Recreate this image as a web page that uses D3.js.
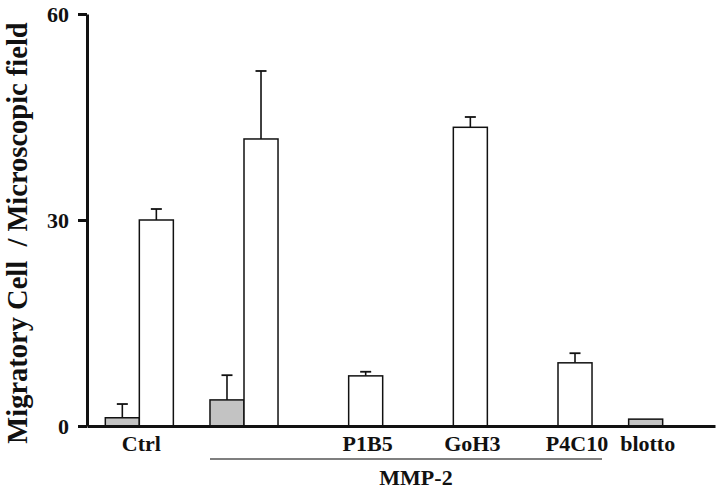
<!DOCTYPE html>
<html>
<head>
<meta charset="utf-8">
<script src="https://cdn.jsdelivr.net/npm/d3@7"></script>
<style>
  html, body { margin: 0; padding: 0; background: #fff; }
  svg { display: block; }
  text { font-family: "Liberation Serif", "Times New Roman", serif; font-weight: bold; fill: #111; }
</style>
</head>
<body>
<svg id="chart" width="720" height="490"></svg>
<script>
// ---- data ----
const groups = ["Ctrl", "MMP-2", "P1B5", "GoH3", "P4C10", "blotto"];
const categoryLabels = ["Ctrl", "", "P1B5", "GoH3", "P4C10", "blotto"];
const grayValues = [1.2, 3.8, 0, 0, 0, 1.0];
const grayErrors = [2.0, 3.6, 0, 0, 0, 0];
const whiteValues = [30.0, 41.8, 7.3, 43.5, 9.2, 0];
const whiteErrors = [1.6, 9.9, 0.6, 1.5, 1.4, 0];
const yTicks = [0, 30, 60];
const bracketText = "MMP-2";
const bracketGroups = ["MMP-2", "P4C10"];
const yTitle = "Migratory Cell\u00A0 / Microscopic field";

// ---- layout ----
const svg = d3.select("#chart");
const x0 = 87, x1 = 715, yBase = 426, yTop = 14;

const x = d3.scaleBand().domain(groups).range([x0, x1]).paddingInner(0.35).paddingOuter(0.175);
const sub = d3.scaleBand().domain(["gray", "white"]).range([0, x.bandwidth()]);
const y = d3.scaleLinear().domain([0, 60]).range([yBase, yTop]);

const series = [
  { key: "gray", values: grayValues, errors: grayErrors, fill: "#c3c3c3" },
  { key: "white", values: whiteValues, errors: whiteErrors, fill: "#ffffff" }
];

// bars
series.forEach(s => {
  const g = svg.append("g");
  groups.forEach((grp, i) => {
    const v = s.values[i];
    if (v <= 0) return;
    const bx = x(grp) + sub(s.key);
    const bw = sub.bandwidth();
    if (s.errors[i] > 0) {
      const cx = bx + bw / 2;
      g.append("line").attr("x1", cx).attr("x2", cx)
        .attr("y1", y(v)).attr("y2", y(v + s.errors[i]))
        .attr("stroke", "#111").attr("stroke-width", 1.6);
      g.append("line").attr("x1", cx - 5.5).attr("x2", cx + 5.5)
        .attr("y1", y(v + s.errors[i])).attr("y2", y(v + s.errors[i]))
        .attr("stroke", "#111").attr("stroke-width", 1.8);
    }
    g.append("rect")
      .attr("x", bx).attr("y", y(v))
      .attr("width", bw).attr("height", y(0) - y(v))
      .attr("fill", s.fill).attr("stroke", "#111").attr("stroke-width", 1.5);
  });
});

// y axis
const yAxis = d3.axisLeft(y).tickValues(yTicks).tickSize(9).tickSizeOuter(0).tickPadding(9);
const ya = svg.append("g").attr("transform", `translate(${x0},0)`).call(yAxis);
ya.select(".domain").attr("stroke", "#111").attr("stroke-width", 3);
ya.selectAll(".tick line").attr("stroke", "#111").attr("stroke-width", 3);
ya.selectAll(".tick text").style("font-size", "22px").attr("fill", "#111")
  .style("font-family", '"Liberation Serif", "Times New Roman", serif').style("font-weight", "bold");

// x axis baseline
const xAxis = d3.axisBottom(x).tickValues([]).tickSizeOuter(0);
const xa = svg.append("g").attr("transform", `translate(0,${yBase})`).call(xAxis);
xa.select(".domain").attr("stroke", "#111").attr("stroke-width", 3);

// category labels, centered on the bars that are drawn
groups.forEach((grp, i) => {
  if (!categoryLabels[i]) return;
  const drawn = series.filter(s => s.values[i] > 0);
  const cx = d3.mean(drawn, s => x(grp) + sub(s.key) + sub.bandwidth() / 2) + 2;
  svg.append("text").attr("x", cx).attr("y", yBase + 25)
    .attr("text-anchor", "middle").style("font-size", "22px").text(categoryLabels[i]);
});

// bracket line and label
const bx0 = x(bracketGroups[0]);
const bx1 = x(bracketGroups[1]) + x.bandwidth() + 10;
svg.append("line").attr("x1", bx0).attr("x2", bx1)
  .attr("y1", yBase + 33).attr("y2", yBase + 33)
  .attr("stroke", "#555").attr("stroke-width", 1.5);
svg.append("text").attr("x", (bx0 + bx1) / 2 + 10).attr("y", yBase + 59)
  .attr("text-anchor", "middle").style("font-size", "22px").text(bracketText);

// y title
svg.append("text")
  .attr("transform", `translate(27,233) rotate(-90)`)
  .attr("text-anchor", "middle").style("font-size", "28.5px").text(yTitle);
</script>
</body>
</html>
